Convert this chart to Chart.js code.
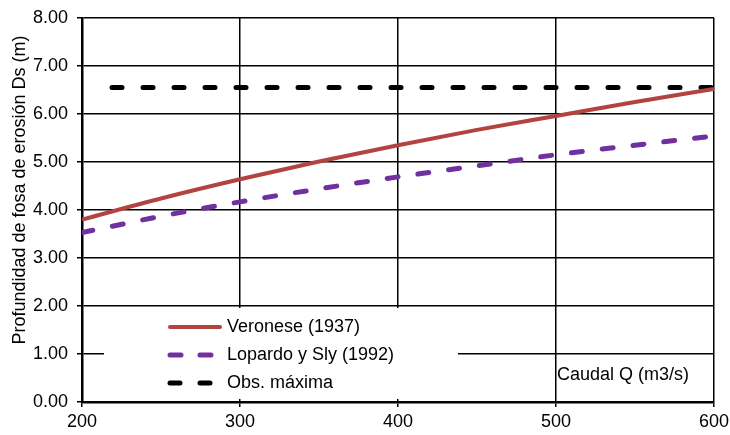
<!DOCTYPE html>
<html>
<head>
<meta charset="utf-8">
<script src="https://cdn.jsdelivr.net/npm/chart.js@4.4.0/dist/chart.umd.min.js"></script>
<style>
  body { margin: 0; background: #fff; }
  canvas { display: block; }
</style>
</head>
<body>
<canvas id="chart" width="730" height="435"></canvas>
<script>
// caudal Q (m3/s)
const caudal = [200, 250, 300, 350, 400, 450, 500, 550, 600];
// profundidad Ds (m)
const veronese = [3.80, 4.24, 4.64, 5.01, 5.35, 5.67, 5.96, 6.25, 6.52];
const lopardo = [3.53, 3.87, 4.17, 4.44, 4.69, 4.92, 5.15, 5.35, 5.54];
const obsCaudal = [219, 600];
const obsMaxima = [6.55, 6.55];

const FONT = "'Liberation Sans', Arial, sans-serif";

function pts(xs, ys) {
  return xs.map((x, i) => ({ x: x, y: ys[i] }));
}

const legendItems = [
  { label: 'Veronese (1937)', color: '#B3433F', width: 4, dash: [] },
  { label: 'Lopardo y Sly (1992)', color: '#7030A0', width: 5, dash: [11, 19] },
  { label: 'Obs. máxima', color: '#000000', width: 5, dash: [10, 20] }
];

const extras = {
  id: 'extras',
  beforeDatasetsDraw(chart) {
    const ctx = chart.ctx;
    // fondo blanco de la leyenda, tapa la grilla
    ctx.save();
    ctx.fillStyle = '#fff';
    ctx.fillRect(104, 308, 354, 91);
    ctx.restore();
  },
  afterDraw(chart) {
    const ctx = chart.ctx;
    ctx.save();
    ctx.font = '18px ' + FONT;
    ctx.fillStyle = '#000';
    ctx.textBaseline = 'middle';
    ctx.lineCap = 'round';
    legendItems.forEach((it, i) => {
      const y = 327 + i * 28;
      ctx.beginPath();
      ctx.strokeStyle = it.color;
      ctx.lineWidth = it.width;
      ctx.setLineDash(it.dash);
      ctx.moveTo(170, y);
      ctx.lineTo(220, y);
      ctx.stroke();
      ctx.setLineDash([]);
      ctx.fillText(it.label, 227, y);
    });
    ctx.fillText('Caudal Q (m3/s)', 557, 375);

    // titulo eje y
    ctx.translate(20, 190);
    ctx.rotate(-Math.PI / 2);
    ctx.textAlign = 'center';
    ctx.fillText('Profundidad de fosa de erosión Ds (m)', 0, 0);
    ctx.restore();
  }
};

new Chart(document.getElementById('chart'), {
  type: 'line',
  data: {
    datasets: [
      {
        label: 'Veronese (1937)',
        data: pts(caudal, veronese),
        borderColor: '#B3433F',
        borderWidth: 4,
        cubicInterpolationMode: 'monotone',
        pointRadius: 0
      },
      {
        label: 'Lopardo y Sly (1992)',
        data: pts(caudal, lopardo),
        borderColor: '#7030A0',
        borderWidth: 5,
        borderDash: [11, 20],
        borderCapStyle: 'round',
        cubicInterpolationMode: 'monotone',
        pointRadius: 0
      },
      {
        label: 'Obs. máxima',
        data: pts(obsCaudal, obsMaxima),
        borderColor: '#000',
        borderWidth: 5,
        borderDash: [10, 21],
        borderCapStyle: 'round',
        pointRadius: 0
      }
    ]
  },
  options: {
    responsive: false,
    animation: false,
    layout: { padding: { top: 18, right: 16, left: 0, bottom: 0 } },
    plugins: {
      legend: { display: false },
      tooltip: { enabled: false }
    },
    scales: {
      x: {
        type: 'linear',
        min: 200,
        max: 600,
        afterFit: s => { s.height = 33; s.paddingLeft = 0; s.paddingRight = 0; },
        ticks: {
          stepSize: 100,
          color: '#000',
          padding: 4,
          font: { family: FONT, size: 18 }
        },
        grid: { color: '#000', lineWidth: 1.5, tickLength: 5 },
        border: { color: '#000', width: 2.5 }
      },
      y: {
        min: 0,
        max: 8,
        afterFit: s => { s.width = 82; s.paddingTop = 0; s.paddingBottom = 0; },
        ticks: {
          stepSize: 1,
          color: '#000',
          padding: 9,
          font: { family: FONT, size: 18 },
          callback: v => v.toFixed(2)
        },
        grid: { color: '#000', lineWidth: 1.5, tickLength: 5 },
        border: { color: '#000', width: 2.5 }
      }
    }
  },
  plugins: [extras]
});
</script>
</body>
</html>
